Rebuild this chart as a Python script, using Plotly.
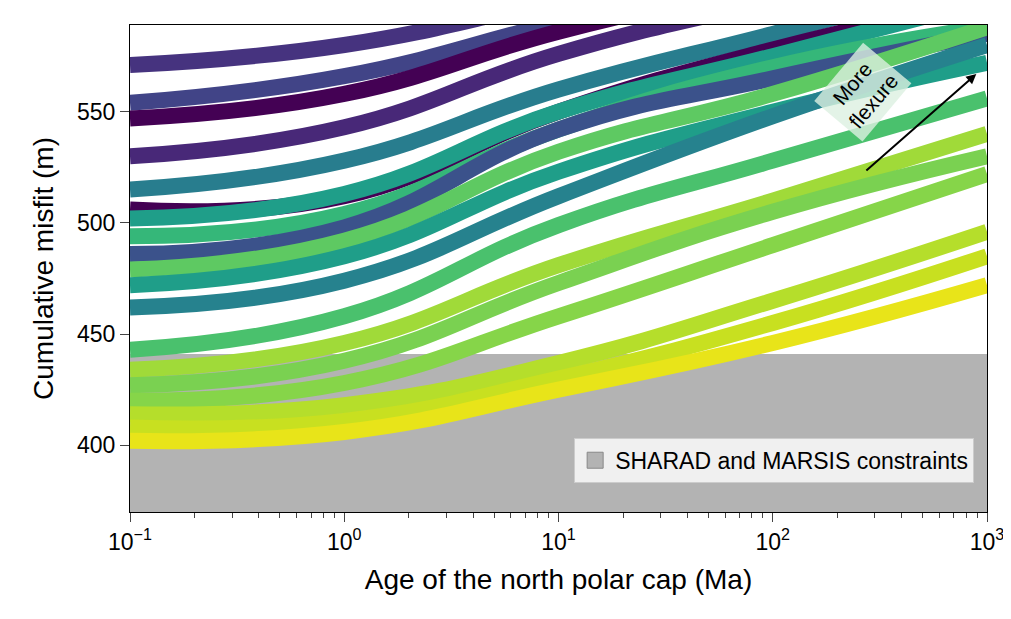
import plotly.graph_objects as go

# sample ages (Ma) where band centres were read
ages = [0.1, 1, 10, 100, 1000]

# band centre misfit (m) at each age, bottom to top, with colour
bands = [
    ("#4ac16d", [443, 458, 499, 528, 556]),
    ("#46337f", [571, 580, 600, 620, 640]),
    ("#414487", [554, 566, 590, 612, 632]),
    ("#440154", [547, 558, 586, 608, 628]),
    ("#482878", [530, 543, 576, 600, 622]),
    ("#287d8e", [515, 528, 560, 585, 610]),
    ("#440154", [506, 512, 550, 578, 600]),
    ("#1f9e89", [502, 513, 550, 575, 600]),
    ("#35b779", [494, 504, 542, 570, 588]),
    ("#3b528b", [486, 498, 542, 565, 585]),
    ("#5ec962", [479, 492, 532, 558, 588]),
    ("#1f9e89", [472, 485, 523, 550, 572]),
    ("#26828e", [462, 474, 512, 548, 580]),
    ("#a0da39", [434, 446, 481, 510, 540]),
    ("#7ad151", [427, 438, 473, 505, 530]),
    ("#86d549", [420, 428, 458, 490, 522]),
    ("#b5de2b", [414, 418, 437, 465, 496]),
    ("#c8e020", [408, 411, 430, 455, 485]),
    ("#e8e419", [402, 406, 425, 446, 472]),
]

constraint_top = 441
y_min, y_max = 370, 589

minor_ticks = [m * 10 ** e for e in range(-1, 3) for m in range(2, 10)]

fig = go.Figure()

fig.add_trace(go.Scatter(
    x=[0.1, 1000, 1000, 0.1, 0.1],
    y=[y_min, y_min, constraint_top, constraint_top, y_min],
    fill="toself", fillcolor="#b3b3b3", mode="lines",
    line=dict(width=0, color="#b3b3b3"),
    showlegend=False, hoverinfo="skip",
))

for color, vals in bands:
    fig.add_trace(go.Scatter(
        x=ages, y=vals, mode="lines",
        line=dict(color=color, width=16, shape="spline", smoothing=1.3),
        showlegend=False, hoverinfo="skip",
    ))

# legend entry for the constraint region
fig.add_trace(go.Scatter(
    x=[None], y=[None], mode="markers", name="SHARAD and MARSIS constraints",
    marker=dict(symbol="square", size=16, color="#b3b3b3",
                line=dict(color="#888888", width=1)),
))

fig.add_annotation(
    x=2.42, y=559, xref="x", yref="y", text="More<br>flexure",
    showarrow=False, textangle=-50, font=dict(size=21, color="black"),
    bgcolor="rgba(220,240,225,0.8)", borderpad=6,
)
fig.add_annotation(
    x=2.95, y=567, ax=2.43, ay=523, xref="x", yref="y", axref="x", ayref="y",
    text="", showarrow=True, arrowhead=2, arrowwidth=2, arrowcolor="black",
)

fig.update_layout(
    width=1011, height=619,
    margin=dict(l=122, r=32, t=17, b=115),
    plot_bgcolor="white", paper_bgcolor="white",
    font=dict(family="Liberation Sans, Arial", size=23, color="black"),
    legend=dict(x=0.985, y=0.06, xanchor="right", yanchor="bottom",
                bgcolor="#f0f0f0", bordercolor="#cccccc", borderwidth=1,
                font=dict(size=23)),
    xaxis=dict(
        type="log", range=[-1, 3], title="Age of the north polar cap (Ma)",
        tickvals=[0.1, 1, 10, 100, 1000],
        ticktext=["10<sup>−1</sup>", "10<sup>0</sup>", "10<sup>1</sup>",
                  "10<sup>2</sup>", "10<sup>3</sup>"],
        ticks="outside", ticklen=9, showline=True, linecolor="black",
        mirror=True, showgrid=False, zeroline=False, automargin=False,
        minor=dict(tickvals=minor_ticks, ticks="outside", ticklen=5,
                   showgrid=False),
    ),
    yaxis=dict(
        range=[y_min, y_max], title="Cumulative misfit (m)",
        tickvals=[400, 450, 500, 550], ticks="outside", ticklen=9,
        showline=True, linecolor="black", mirror=True, showgrid=False,
        zeroline=False, automargin=False,
    ),
)

fig.write_html("out.html")
